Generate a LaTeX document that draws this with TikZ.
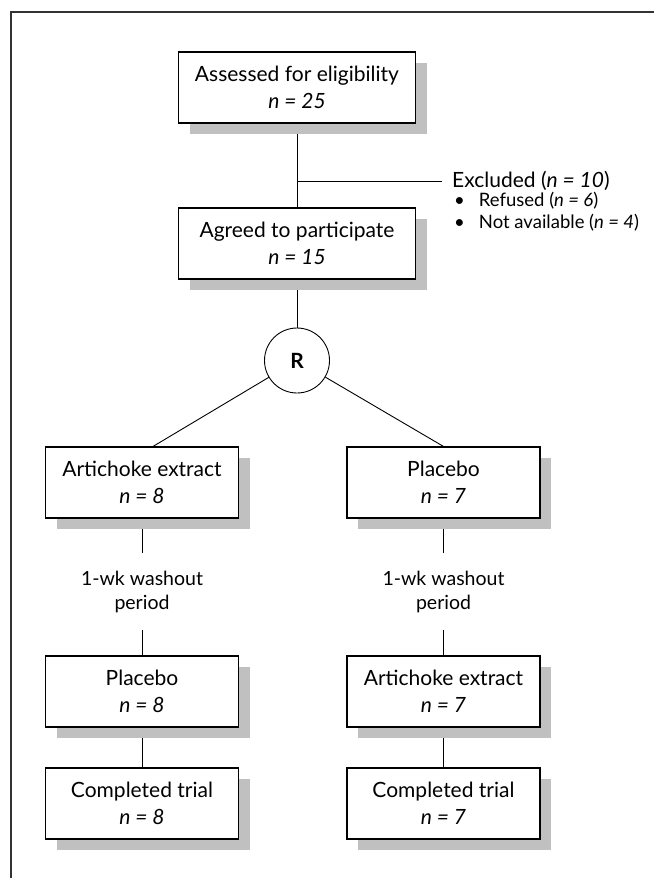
\documentclass[tikz,border=0pt]{standalone}
\usepackage{fontspec}
\setmainfont{Lato}
\usetikzlibrary{shadows}
\usetikzlibrary{backgrounds}
\definecolor{shade}{RGB}{192,192,192}

\begin{document}
\begin{tikzpicture}[x=1pt,y=1pt]
\tikzset{box/.style = {shape=rectangle,draw,line width=1.1pt,fill=white,align=center,minimum height=71pt,font=\fontsize{21}{27}\selectfont,drop shadow={shadow xshift=11pt,shadow yshift=-11pt,fill=shade,opacity=1}}}
\tikzset{widebox/.style = {box,minimum width=237pt}}
\tikzset{colbox/.style = {box,minimum width=193pt}}
\tikzset{note/.style = {align=center,minimum height=77pt,inner sep=0pt,font=\fontsize{19.5}{24}\selectfont}}
\tikzset{item/.style = {anchor=west,inner sep=0pt,font=\fontsize{18.5}{22}\selectfont}}
\tikzset{edge/.style = {line width=0.9pt}}
\useasboundingbox (0,0) rectangle (654,-878);
\draw[line width=1.6pt,black!80] (11,-878) -- (11,-12) -- (654,-12);

\node[widebox] (assess) at (297,-87.5) {Assessed for eligibility\\ \textit{n = 25}};
\node[widebox] (agree) at (297,-243.5) {Agreed to participate\\ \textit{n = 15}};
\node[anchor=west,inner xsep=10pt,font=\fontsize{21}{24}\selectfont] (excl) at (442,-181) {Excluded (\textit{n = 10})};
\node[item] (refused) at (454,-201) {\textbullet\hspace{14pt}Refused (\textit{n = 6})};
\node[item] (notavail) at (454,-223) {\textbullet\hspace{14pt}Not available (\textit{n = 4})};
\node[shape=circle,draw,line width=0.9pt,fill=white,minimum size=65pt,font=\fontsize{21}{21}\selectfont\bfseries] (R) at (297,-360.5) {R};

\node[colbox] (artL) at (142,-482.5) {Artichoke extract\\ \textit{n = 8}};
\node[colbox] (plaR) at (443.5,-482.5) {Placebo\\ \textit{n = 7}};
\node[note] (washL) at (142,-591.5) {1-wk washout\\ period};
\node[note] (washR) at (443.5,-591.5) {1-wk washout\\ period};
\node[colbox] (plaL) at (142,-691.5) {Placebo\\ \textit{n = 8}};
\node[colbox] (artR) at (443.5,-691.5) {Artichoke extract\\ \textit{n = 7}};
\node[colbox] (doneL) at (142,-803.5) {Completed trial\\ \textit{n = 8}};
\node[colbox] (doneR) at (443.5,-803.5) {Completed trial\\ \textit{n = 7}};

\begin{scope}[on background layer]
\fill[white] (0,0) rectangle (654,-878);
\coordinate (split) at (assess.south |- excl.west);
\draw[edge] (assess) -- (agree);
\draw[edge] (split) -- (excl.west);
\draw[edge] (agree) -- (R);
\draw[edge] (R) -- ([xshift=11pt]artL.north);
\draw[edge] (R) -- (plaR.north);
\draw[edge] (artL) -- (washL);
\draw[edge] (washL) -- (plaL);
\draw[edge] (plaL) -- (doneL);
\draw[edge] (plaR) -- (washR);
\draw[edge] (washR) -- (artR);
\draw[edge] (artR) -- (doneR);
\end{scope}
\end{tikzpicture}
\end{document}
